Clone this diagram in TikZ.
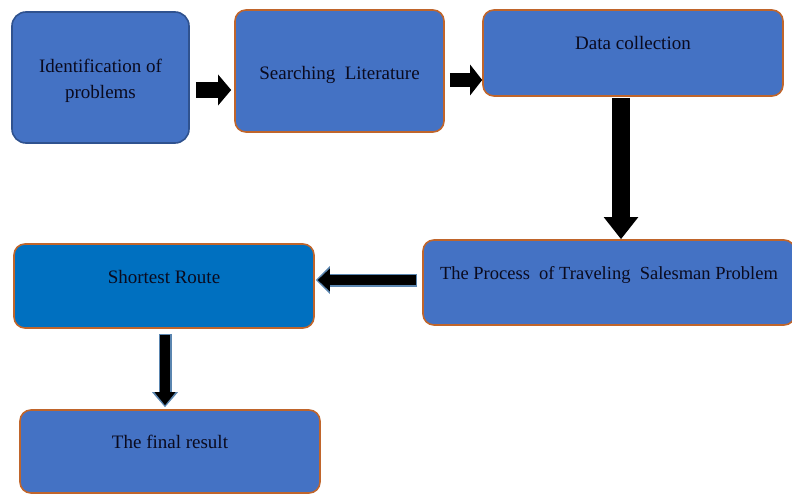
\documentclass[tikz,border=0pt]{standalone}
\usepackage{fontspec}
\setmainfont{Liberation Serif}
\usetikzlibrary{arrows.meta}
\definecolor{boxblue}{HTML}{4472C4}
\definecolor{routeblue}{HTML}{0070C0}
\definecolor{edgeorange}{HTML}{C0652B}
\definecolor{edgeblue}{HTML}{2F528F}
\definecolor{rimblue}{HTML}{5B86B0}
\definecolor{textnavy}{HTML}{0A0A1E}
\tikzset{
  stagebox/.style={draw=edgeorange, line width=1.6pt, fill=boxblue, rounded corners=11pt,
    text=textnavy, font=\fontsize{19}{26}\selectfont, align=center, inner sep=0pt},
  raised/.style 2 args={text height=#1, text depth=#2},
  blockarrow/.style n args={3}{line width=#1, -{Triangle[length=#2, width=#3]}}
}
\begin{document}
\begin{tikzpicture}[x=1pt,y=-1pt]
\useasboundingbox (0,0) rectangle (792,495);
\node[stagebox, draw=edgeblue, rounded corners=14pt, minimum width=177pt, minimum height=131pt] (ident) at (100.5,77.5) {\rule{0pt}{21pt}Identification of\\problems};
\node[stagebox, minimum width=209pt, minimum height=122pt, raised={21pt}{4pt}] (search) at (339.5,71) {Searching\ \ Literature};
\node[stagebox, minimum width=300pt, minimum height=86pt, raised={13pt}{20pt}] (data) at (633,53) {Data collection};
\node[stagebox, minimum width=372pt, minimum height=85pt, raised={13pt}{19pt}] (tsp) at (609,282.5) {\fontsize{18.5}{26}\selectfont The Process\ \ of Traveling\ \ Salesman Problem};
\node[stagebox, fill=routeblue, minimum width=300pt, minimum height=84pt, raised={13pt}{18pt}] (route) at (164,286) {Shortest Route};
\node[stagebox, minimum width=300pt, minimum height=83pt, raised={13pt}{19pt}] (final) at (170,451.5) {The final result};
% arrows between the stages
\draw[blockarrow={16pt}{13pt}{30pt}, shorten <=6pt, shorten >=3pt] ([yshift=-12.5pt]ident.east) -- ([yshift=-12.5pt]ident.east -| search.west);
\draw[blockarrow={14pt}{12pt}{30pt}, shorten <=5pt] ([yshift=-9pt]search.east) -- ([yshift=-9pt]search.east -| data.west);
\draw[blockarrow={18pt}{22pt}{33pt}, shorten <=1pt] ([xshift=-12pt]data.south) -- ([xshift=-12pt]data.south |- tsp.north);
\draw[rimblue, blockarrow={13pt}{14pt}{27pt}, shorten <=5pt, shorten >=1pt] ([yshift=2.5pt]tsp.west) -- ([yshift=2.5pt]tsp.west -| route.east);
\draw[blockarrow={10pt}{12pt}{22pt}, shorten <=6.5pt, shorten >=3pt] ([yshift=2.5pt]tsp.west) -- ([yshift=2.5pt]tsp.west -| route.east);
\draw[rimblue, blockarrow={13pt}{15pt}{25pt}, shorten <=5pt, shorten >=2pt] ([xshift=1pt]route.south) -- ([xshift=1pt]route.south |- final.north);
\draw[blockarrow={10pt}{13pt}{20pt}, shorten <=6.5pt, shorten >=4pt] ([xshift=1pt]route.south) -- ([xshift=1pt]route.south |- final.north);
\end{tikzpicture}
\end{document}
